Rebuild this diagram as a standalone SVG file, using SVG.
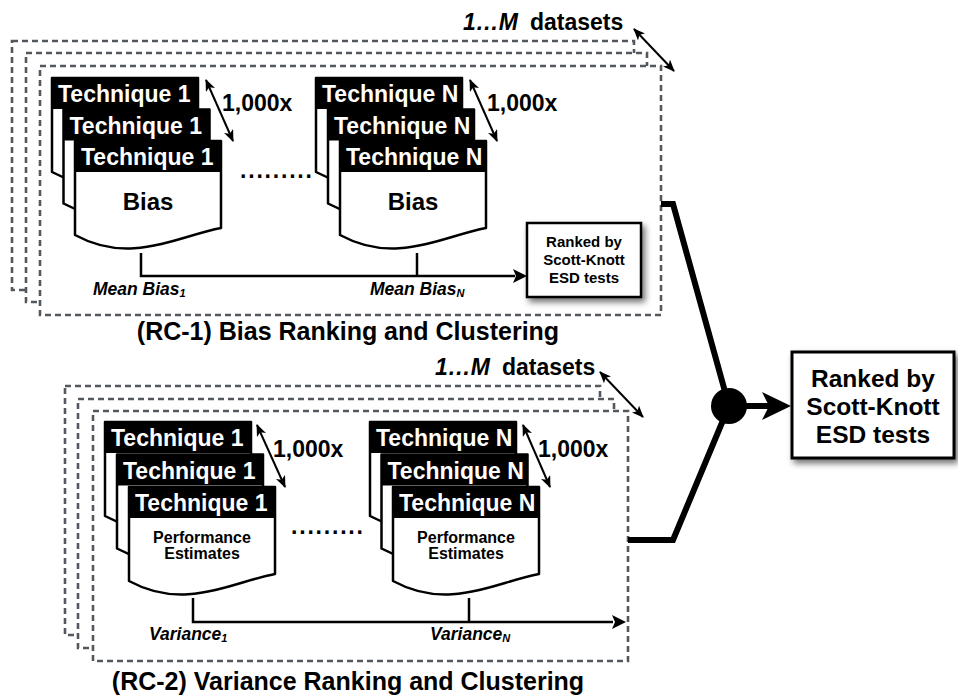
<svg xmlns="http://www.w3.org/2000/svg" width="958" height="697" viewBox="0 0 958 697">
  <style>
    text { font-family: 'Liberation Sans', Arial, Helvetica, sans-serif; font-weight: bold; fill: #000; }
    .dash { fill: #fff; stroke: #53585e; stroke-width: 2.6; stroke-dasharray: 6 4; }
    .card { fill: #fff; stroke: #000; stroke-width: 2.5; stroke-linejoin: round; }
    .hdr { fill: #000; }
    .hdrtxt { fill: #fff; font-size: 23px; }
    .body { font-size: 24px; text-anchor: middle; }
    .perf { font-size: 16px; text-anchor: middle; }
    .rep { font-size: 23px; }
    .dots { font-size: 23px; letter-spacing: 1.8px; }
    .lbl { font-size: 17.5px; font-style: italic; }
    .sub { font-size: 11px; }
    .title { font-size: 25px; text-anchor: middle; }
    .ds { font-size: 23px; }
    .line { fill: none; stroke: #000; stroke-width: 2.5; }
    .dbl { fill: none; stroke: #000; stroke-width: 2; marker-start: url(#ah); marker-end: url(#ah); }
    .thick { fill: none; stroke: #000; stroke-width: 6; stroke-linejoin: miter; }
    .box { fill: #fff; stroke: #000; stroke-width: 3; filter: url(#shadow); }
    .smallbox { fill: #fff; stroke: #000; stroke-width: 2.5; filter: url(#shadow); }
  </style>
  <defs>
    <marker id="ah" viewBox="0 0 12 10" refX="11" refY="5" markerWidth="12" markerHeight="10" markerUnits="userSpaceOnUse" orient="auto-start-reverse">
      <path d="M0,0 L12,5 L0,10 L3,5 Z" fill="#000"/>
    </marker>
    <filter id="shadow" x="-20%" y="-20%" width="150%" height="150%">
      <feDropShadow dx="3" dy="4" stdDeviation="3" flood-color="#000" flood-opacity="0.55"/>
    </filter>
    <!-- one result sheet: black header band over a document-shaped body -->
    <path id="sheet" d="M0,0 H146 V87 C100,96 55,124 0,94 Z"/>
  </defs>

  <!-- RC-1: stacked dataset frames -->
  <g id="rc1-frames">
    <rect class="dash" x="12" y="41" width="622" height="249"/>
    <rect class="dash" x="26" y="53" width="621" height="249"/>
    <rect class="dash" x="40" y="66" width="621" height="249"/>
  </g>
  <g id="rc1-datasets">
    <text class="ds" x="463" y="30"><tspan font-style="italic">1…M</tspan><tspan x="530">datasets</tspan></text>
  </g>

  <!-- RC-1: technique 1 repetitions -->
  <g id="rc1-tech1">
    <g transform="translate(52,78)">
      <use href="#sheet" class="card"/>
      <rect class="hdr" x="0" y="0" width="146" height="31"/>
      <text class="hdrtxt" x="6" y="24">Technique 1</text>
    </g>
    <g transform="translate(63.5,109.5)">
      <use href="#sheet" class="card"/>
      <rect class="hdr" x="0" y="0" width="146" height="31"/>
      <text class="hdrtxt" x="6" y="24">Technique 1</text>
    </g>
    <g transform="translate(75,141)">
      <use href="#sheet" class="card"/>
      <rect class="hdr" x="0" y="0" width="146" height="31"/>
      <text class="hdrtxt" x="6" y="24">Technique 1</text>
      <text class="body" x="73" y="69">Bias</text>
    </g>
    <text class="rep" x="222" y="111">1,000x</text>
  </g>

  <g id="rc1-dots">
    <text class="dots" x="240" y="178">.........</text>
  </g>

  <!-- RC-1: technique N repetitions -->
  <g id="rc1-techN">
    <g transform="translate(316,78)">
      <use href="#sheet" class="card"/>
      <rect class="hdr" x="0" y="0" width="146" height="31"/>
      <text class="hdrtxt" x="6" y="24">Technique N</text>
    </g>
    <g transform="translate(328,109.5)">
      <use href="#sheet" class="card"/>
      <rect class="hdr" x="0" y="0" width="146" height="31"/>
      <text class="hdrtxt" x="6" y="24">Technique N</text>
    </g>
    <g transform="translate(340,141)">
      <use href="#sheet" class="card"/>
      <rect class="hdr" x="0" y="0" width="146" height="31"/>
      <text class="hdrtxt" x="6" y="24">Technique N</text>
      <text class="body" x="73" y="69">Bias</text>
    </g>
    <text class="rep" x="487" y="111">1,000x</text>
  </g>

  <g id="rc1-labels">
    <text class="lbl" x="93" y="295">Mean Bias<tspan class="sub" dy="2">1</tspan></text>
    <text class="lbl" x="370" y="295">Mean Bias<tspan class="sub" dy="2">N</tspan></text>
  </g>

  <g id="rc1-rank">
    <rect class="smallbox" x="527" y="223" width="114" height="74"/>
    <text x="584" y="247" font-size="15" text-anchor="middle">Ranked by</text>
    <text x="584" y="265" font-size="15" text-anchor="middle">Scott-Knott</text>
    <text x="584" y="283" font-size="15" text-anchor="middle">ESD tests</text>
  </g>

  <g id="rc1-title">
    <text class="title" x="348" y="340">(RC-1) Bias Ranking and Clustering</text>
  </g>

  <!-- RC-2: stacked dataset frames -->
  <g id="rc2-frames">
    <rect class="dash" x="65" y="386" width="535" height="249"/>
    <rect class="dash" x="78" y="399" width="536" height="249"/>
    <rect class="dash" x="93" y="411" width="535" height="250"/>
  </g>
  <g id="rc2-datasets">
    <text class="ds" x="435" y="375"><tspan font-style="italic">1…M</tspan><tspan x="502">datasets</tspan></text>
  </g>

  <!-- RC-2: technique 1 repetitions -->
  <g id="rc2-tech1">
    <g transform="translate(105,422)">
      <use href="#sheet" class="card"/>
      <rect class="hdr" x="0" y="0" width="146" height="31"/>
      <text class="hdrtxt" x="6" y="24">Technique 1</text>
    </g>
    <g transform="translate(117,454.5)">
      <use href="#sheet" class="card"/>
      <rect class="hdr" x="0" y="0" width="146" height="31"/>
      <text class="hdrtxt" x="6" y="24">Technique 1</text>
    </g>
    <g transform="translate(129,487)">
      <use href="#sheet" class="card"/>
      <rect class="hdr" x="0" y="0" width="146" height="31"/>
      <text class="hdrtxt" x="6" y="24">Technique 1</text>
      <text class="perf" x="73" y="56">Performance</text>
      <text class="perf" x="73" y="72">Estimates</text>
    </g>
    <text class="rep" x="273" y="457">1,000x</text>
  </g>

  <g id="rc2-dots">
    <text class="dots" x="291" y="534">.........</text>
  </g>

  <!-- RC-2: technique N repetitions -->
  <g id="rc2-techN">
    <g transform="translate(370,422)">
      <use href="#sheet" class="card"/>
      <rect class="hdr" x="0" y="0" width="146" height="31"/>
      <text class="hdrtxt" x="6" y="24">Technique N</text>
    </g>
    <g transform="translate(381.5,454.5)">
      <use href="#sheet" class="card"/>
      <rect class="hdr" x="0" y="0" width="146" height="31"/>
      <text class="hdrtxt" x="6" y="24">Technique N</text>
    </g>
    <g transform="translate(393,487)">
      <use href="#sheet" class="card"/>
      <rect class="hdr" x="0" y="0" width="146" height="31"/>
      <text class="hdrtxt" x="6" y="24">Technique N</text>
      <text class="perf" x="73" y="56">Performance</text>
      <text class="perf" x="73" y="72">Estimates</text>
    </g>
    <text class="rep" x="538" y="457">1,000x</text>
  </g>

  <g id="rc2-labels">
    <text class="lbl" x="149" y="640">Variance<tspan class="sub" dy="2">1</tspan></text>
    <text class="lbl" x="430" y="640">Variance<tspan class="sub" dy="2">N</tspan></text>
  </g>

  <g id="rc2-title">
    <text class="title" x="348" y="690">(RC-2) Variance Ranking and Clustering</text>
  </g>

  <!-- final ranking -->
  <g id="final-rank">
    <rect class="box" x="792" y="352" width="162" height="106"/>
    <text x="873" y="387" font-size="24.5" text-anchor="middle">Ranked by</text>
    <text x="873" y="415" font-size="24.5" text-anchor="middle">Scott-Knott</text>
    <text x="873" y="443" font-size="24.5" text-anchor="middle">ESD tests</text>
  </g>

  <!-- connectors -->
  <g id="connectors">
    <!-- repetition and dataset indicators -->
    <line class="dbl" x1="206" y1="80" x2="233" y2="141"/>
    <line class="dbl" x1="470" y1="80" x2="497" y2="141"/>
    <line class="dbl" x1="257" y1="425" x2="285" y2="487"/>
    <line class="dbl" x1="523" y1="425" x2="550" y2="487"/>
    <line class="dbl" x1="634" y1="29" x2="674" y2="71"/>
    <line class="dbl" x1="600" y1="372" x2="643" y2="417"/>

    <!-- RC-1 collection into ranking -->
    <path class="line" d="M141,253 V276 H515"/>
    <line class="line" x1="417" y1="253" x2="417" y2="276"/>
    <path d="M527,276 L513,269 L516,276 L513,283 Z" fill="#000"/>

    <!-- RC-2 collection -->
    <path class="line" d="M193,598 V622 H613"/>
    <line class="line" x1="469" y1="598" x2="469" y2="622"/>
    <path d="M626,622 L612,615 L615,622 L612,629 Z" fill="#000"/>

    <!-- merge of both rankings -->
    <path class="thick" d="M661,204 H673 L729,406"/>
    <path class="thick" d="M628,540 H673 L729,406"/>
    <circle cx="729" cy="406" r="18" fill="#000"/>
    <line x1="729" y1="406" x2="772" y2="406" stroke="#000" stroke-width="6"/>
    <path d="M791,406 L762,392 L769,406 L762,420 Z" fill="#000"/>
  </g>
</svg>
